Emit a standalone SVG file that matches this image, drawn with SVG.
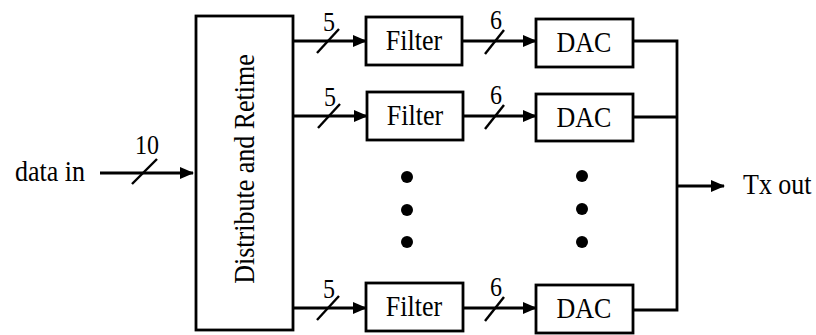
<svg xmlns="http://www.w3.org/2000/svg" width="816" height="335" viewBox="0 0 816 335">
<style>
.box{fill:#fff;stroke:#000;stroke-width:2.8}
.ln{fill:none;stroke:#000;stroke-width:2.8}
.sl{stroke:#000;stroke-width:2.4}
.t{font-family:"Liberation Serif","Times New Roman",serif;font-size:26px;fill:#000}
.c{text-anchor:middle}
.n{font-family:"Liberation Serif","Times New Roman",serif;font-size:24px;fill:#000;text-anchor:middle}
.dot{fill:#000}
</style>
<defs>
<marker id="ah" markerUnits="userSpaceOnUse" markerWidth="14" markerHeight="14" viewBox="0 0 14 14" refX="13" refY="7" orient="auto">
<path d="M0,1 L14,7 L0,13 Z" fill="#000"/>
</marker>
</defs>
<rect width="816" height="335" fill="#fff"/>
<g id="connectors">
<line class="ln" x1="100" y1="173" x2="193" y2="173" marker-end="url(#ah)"/>
<line class="sl" x1="132" y1="184" x2="157" y2="159"/>
<text class="n" transform="translate(147,154) scale(1,1.1)">10</text>
<line class="ln" x1="293" y1="41" x2="366" y2="41" marker-end="url(#ah)"/>
<line class="sl" x1="317" y1="53" x2="339" y2="29"/>
<text class="n" transform="translate(329,31) scale(1,1.1)">5</text>
<line class="ln" x1="293" y1="116" x2="367" y2="116" marker-end="url(#ah)"/>
<line class="sl" x1="318" y1="128" x2="340" y2="104"/>
<text class="n" transform="translate(330,106) scale(1,1.1)">5</text>
<line class="ln" x1="293" y1="308" x2="366" y2="308" marker-end="url(#ah)"/>
<line class="sl" x1="317" y1="320" x2="339" y2="296"/>
<text class="n" transform="translate(329,298) scale(1,1.1)">5</text>
<line class="ln" x1="462" y1="41" x2="536" y2="41" marker-end="url(#ah)"/>
<line class="sl" x1="485" y1="54" x2="504" y2="30"/>
<text class="n" transform="translate(496,29) scale(1,1.1)">6</text>
<line class="ln" x1="463" y1="116" x2="536" y2="116" marker-end="url(#ah)"/>
<line class="sl" x1="485" y1="129" x2="504" y2="105"/>
<text class="n" transform="translate(496,104) scale(1,1.1)">6</text>
<line class="ln" x1="463" y1="308" x2="536" y2="308" marker-end="url(#ah)"/>
<line class="sl" x1="485" y1="321" x2="504" y2="297"/>
<text class="n" transform="translate(496,296) scale(1,1.1)">6</text>
<path class="ln" d="M633,41 H677 V310 H633 M633,117 H677"/>
<line class="ln" x1="677" y1="186" x2="724" y2="186" marker-end="url(#ah)"/>
</g>
<g id="distribute">
<rect class="box" x="196" y="16" width="97" height="314"/>
<text class="t c" transform="translate(254,169) rotate(-90) scale(1,1.12)">Distribute and Retime</text>
</g>
<g id="filter1"><rect class="box" x="366" y="17" width="96" height="48"/><text class="t c" transform="translate(414,50) scale(1,1.12)">Filter</text></g>
<g id="filter2"><rect class="box" x="367" y="92" width="96" height="48"/><text class="t c" transform="translate(415,125) scale(1,1.12)">Filter</text></g>
<g id="filter3"><rect class="box" x="366" y="283" width="97" height="48"/><text class="t c" transform="translate(414,316) scale(1,1.12)">Filter</text></g>
<g id="dac1"><rect class="box" x="536" y="19" width="97" height="48"/><text class="t c" transform="translate(584,52) scale(1,1.12)">DAC</text></g>
<g id="dac2"><rect class="box" x="536" y="94" width="97" height="47"/><text class="t c" transform="translate(584,127) scale(1,1.12)">DAC</text></g>
<g id="dac3"><rect class="box" x="536" y="285" width="97" height="48"/><text class="t c" transform="translate(584,318) scale(1,1.12)">DAC</text></g>
<g id="dots">
<circle class="dot" cx="407" cy="177" r="6"/>
<circle class="dot" cx="407" cy="210" r="6"/>
<circle class="dot" cx="407" cy="242" r="6"/>
<circle class="dot" cx="582" cy="176" r="6"/>
<circle class="dot" cx="582" cy="209" r="6"/>
<circle class="dot" cx="582" cy="242" r="6"/>
</g>
<g id="labels">
<text class="t" transform="translate(15,181) scale(1,1.12)">data in</text>
<text class="t" transform="translate(743,194) scale(1,1.12)">Tx out</text>
</g>
</svg>
